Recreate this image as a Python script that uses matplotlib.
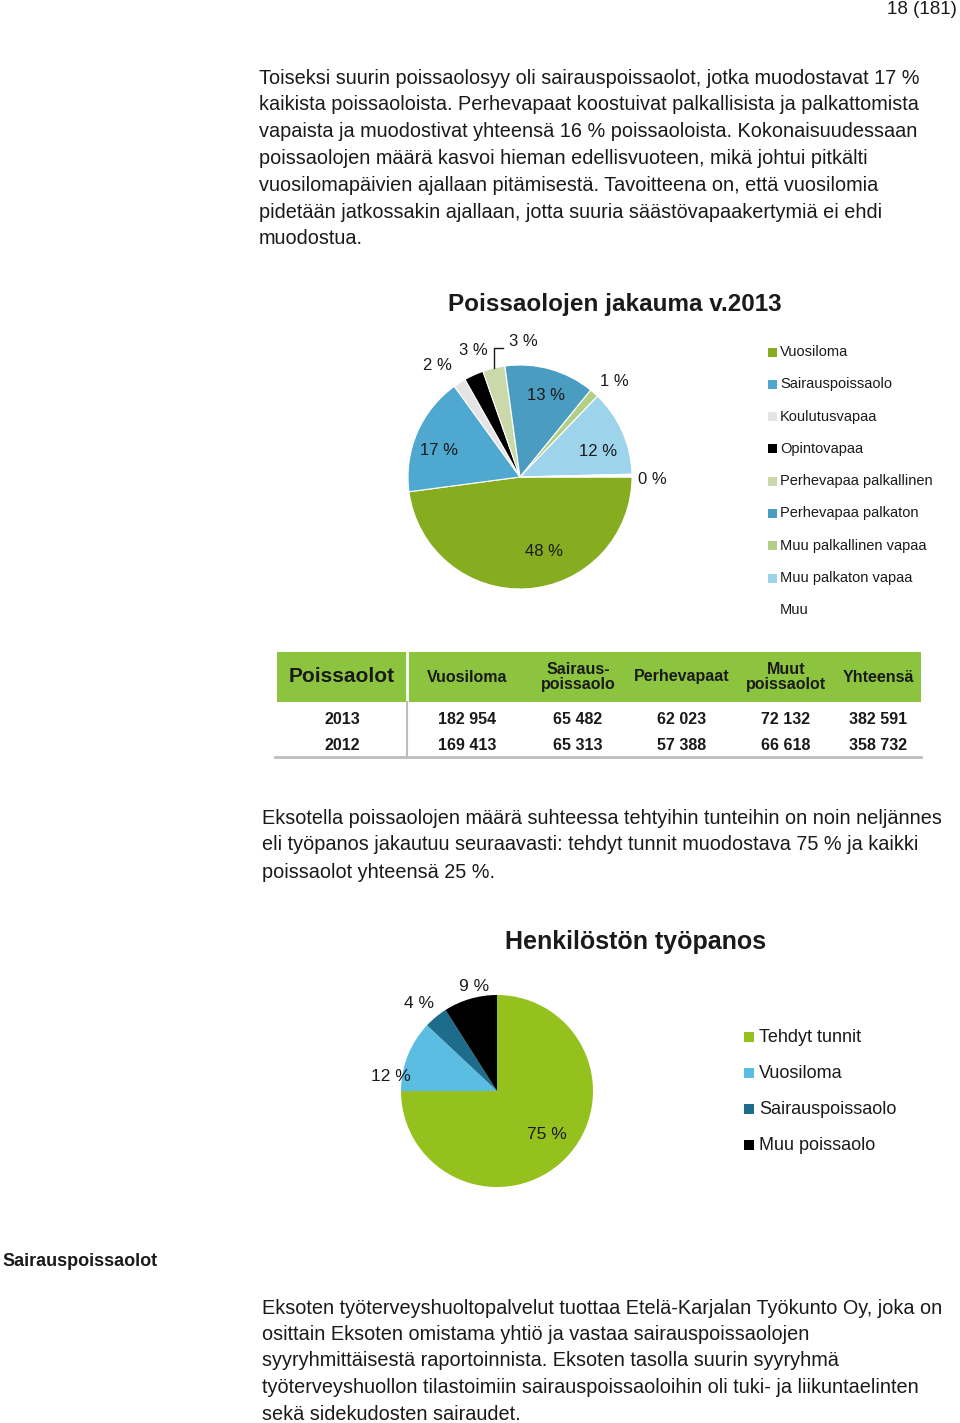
import matplotlib
matplotlib.use("Agg")
import matplotlib.pyplot as plt
from matplotlib.patches import Rectangle
import numpy as np

W, H = 960, 1423
plt.rcParams['font.family'] = ['Liberation Sans', 'DejaVu Sans']

# ---------------- data ----------------
page_number = "18 (181)"
para1 = [
    "Toiseksi suurin poissaolosyy oli sairauspoissaolot, jotka muodostavat 17 %",
    "kaikista poissaoloista. Perhevapaat koostuivat palkallisista ja palkattomista",
    "vapaista ja muodostivat yhteensä 16 % poissaoloista. Kokonaisuudessaan",
    "poissaolojen määrä kasvoi hieman edellisvuoteen, mikä johtui pitkälti",
    "vuosilomapäivien ajallaan pitämisestä. Tavoitteena on, että vuosilomia",
    "pidetään jatkossakin ajallaan, jotta suuria säästövapaakertymiä ei ehdi",
    "muodostua.",
]
pie1_title = "Poissaolojen jakauma v.2013"
pie1_labels = ["Vuosiloma", "Sairauspoissaolo", "Koulutusvapaa", "Opintovapaa",
               "Perhevapaa palkallinen", "Perhevapaa palkaton",
               "Muu palkallinen vapaa", "Muu palkaton vapaa", "Muu"]
pie1_values = [47.8, 17.1, 1.8, 2.8, 3.2, 13.0, 1.3, 12.4, 0.4]
pie1_colors = ["#86ac1f", "#4fa8cf", "#e4e4e4", "#000000", "#cbd9aa",
               "#4a9dc0", "#b3cf85", "#9dd4ec", "#ffffff"]

table_header = ["Poissaolot", "Vuosiloma", "Sairaus-\npoissaolo", "Perhevapaat",
                "Muut\npoissaolot", "Yhteensä"]
table_years = ["2013", "2012"]
vuosiloma = [182954, 169413]
sairaus = [65482, 65313]
perhevapaat = [62023, 57388]
muut = [72132, 66618]
yhteensa = [382591, 358732]

para2 = [
    "Eksotella poissaolojen määrä suhteessa tehtyihin tunteihin on noin neljännes",
    "eli työpanos jakautuu seuraavasti: tehdyt tunnit muodostava 75 % ja kaikki",
    "poissaolot yhteensä 25 %.",
]
pie2_title = "Henkilöstön työpanos"
pie2_labels = ["Tehdyt tunnit", "Vuosiloma", "Sairauspoissaolo", "Muu poissaolo"]
pie2_values = [75, 12, 4, 9]
pie2_colors = ["#95c11f", "#5bbde2", "#1e6c8b", "#000000"]

section_title = "Sairauspoissaolot"
para3 = [
    "Eksoten työterveyshuoltopalvelut tuottaa Etelä-Karjalan Työkunto Oy, joka on",
    "osittain Eksoten omistama yhtiö ja vastaa sairauspoissaolojen",
    "syyryhmittäisestä raportoinnista. Eksoten tasolla suurin syyryhmä",
    "työterveyshuollon tilastoimiin sairauspoissaoloihin oli tuki- ja liikuntaelinten",
    "sekä sidekudosten sairaudet.",
]

# ---------------- figure ----------------
fig = plt.figure(figsize=(W / 100, H / 100), dpi=100)
fig.patch.set_facecolor("white")
bg = fig.add_axes([0, 0, 1, 1])
bg.set_xlim(0, W)
bg.set_ylim(H, 0)
bg.axis("off")

TXT = "#1a1a1a"
body_fs = 14.3

bg.text(957, 9, page_number, fontsize=13.5, ha="right", va="center", color=TXT)

for i, line in enumerate(para1):
    bg.text(259, 78 + i * 26.8, line, fontsize=body_fs, ha="left", va="center", color=TXT)

# ---------- pie 1 ----------
bg.text(615, 305, pie1_title, fontsize=17.5, fontweight="bold", ha="center", va="center", color=TXT)

def pie_axes(cx, cy, r):
    return fig.add_axes([(cx - r) / W, 1 - (cy + r) / H, 2 * r / W, 2 * r / H])

ax1 = pie_axes(520, 477, 112)
w1, _ = ax1.pie(pie1_values, colors=pie1_colors, startangle=0, counterclock=False,
                wedgeprops=dict(edgecolor="white", linewidth=0.8))
ax1.set_xlim(-1, 1)
ax1.set_ylim(-1, 1)
ax1.axis("off")

pct1 = [f"{round(v)} %" for v in pie1_values]
# (radius, angle offset in degrees) for each label
label_place1 = [(0.70, 14), (0.76, 5), (1.24, 4), (1.20, -4), None,
                (0.76, -2), (1.20, -3), (0.73, -6), (1.18, -2)]
for i, (w, t) in enumerate(zip(w1, pct1)):
    midd = (w.theta1 + w.theta2) / 2
    if label_place1[i] is None:
        mid = np.deg2rad(midd)
        ex, ey = np.cos(mid), np.sin(mid)
        ly = 1.15
        ax1.plot([ex, ex, ex + 0.08], [ey, ly, ly], color=TXT, lw=1, clip_on=False)
        ax1.text(ex + 0.26, 1.21, t, fontsize=12, ha="center", va="center", color=TXT)
    else:
        r, dang = label_place1[i]
        mid = np.deg2rad(midd + dang)
        ax1.text(r * np.cos(mid), r * np.sin(mid), t, fontsize=12, ha="center", va="center", color=TXT)

for i, (lab, col) in enumerate(zip(pie1_labels, pie1_colors)):
    y = 352 + i * 32.3
    if col.lower() != "#ffffff":
        bg.add_patch(Rectangle((768, y - 4.5), 9, 9, facecolor=col, edgecolor="none"))
    bg.text(780, y, lab, fontsize=10.5, ha="left", va="center", color=TXT)

# ---------- table ----------
hdr_green = "#8cc43f"
bg.add_patch(Rectangle((277, 652), 644, 50, facecolor=hdr_green, edgecolor="none"))
bg.plot([407, 407], [652, 702], color="white", lw=2)
bg.plot([407, 407], [702, 757], color="#bdbdbd", lw=1.5)
bg.plot([275, 921], [757, 757], color="#bdbdbd", lw=2)
col_x = [342, 467, 578, 682, 786, 878]
for j, h in enumerate(table_header):
    if j == 0:
        bg.text(col_x[j], 677, h, fontsize=15, fontweight="bold", ha="center", va="center", color=TXT)
    else:
        bg.text(col_x[j], 677, h, fontsize=11.5, fontweight="bold", ha="center", va="center",
                color=TXT, linespacing=1.0)

def fmt(v):
    return f"{v:,}".replace(",", " ")

cols = [vuosiloma, sairaus, perhevapaat, muut, yhteensa]
for r, yr in enumerate(table_years):
    y = 719 + r * 27
    bg.text(col_x[0], y, yr, fontsize=11.5, fontweight="bold", ha="center", va="center", color=TXT)
    for j, c in enumerate(cols):
        bg.text(col_x[j + 1], y, fmt(c[r]), fontsize=11.5, fontweight="bold", ha="center",
                va="center", color=TXT)

for i, line in enumerate(para2):
    bg.text(262, 818 + i * 27, line, fontsize=body_fs, ha="left", va="center", color=TXT)

# ---------- pie 2 ----------
bg.text(636, 942, pie2_title, fontsize=18, fontweight="bold", ha="center", va="center", color=TXT)
ax2 = pie_axes(497, 1091, 96)
w2, _ = ax2.pie(pie2_values, colors=pie2_colors, startangle=90, counterclock=False)
ax2.set_xlim(-1, 1)
ax2.set_ylim(-1, 1)
ax2.axis("off")
pct2 = [f"{v} %" for v in pie2_values]
label_place2 = [(0.69, 4), (1.12, 14), (1.22, 2), (1.11, -4)]
for w, t, (r, dang) in zip(w2, pct2, label_place2):
    mid = np.deg2rad((w.theta1 + w.theta2) / 2 + dang)
    ax2.text(r * np.cos(mid), r * np.sin(mid), t, fontsize=12.5, ha="center", va="center", color=TXT)

for i, (lab, col) in enumerate(zip(pie2_labels, pie2_colors)):
    y = 1037 + i * 36
    bg.add_patch(Rectangle((744, y - 5), 10, 10, facecolor=col, edgecolor="none"))
    bg.text(759, y, lab, fontsize=13, ha="left", va="center", color=TXT)

bg.text(2, 1261, section_title, fontsize=13, fontweight="bold", ha="left", va="center", color=TXT)
for i, line in enumerate(para3):
    bg.text(262, 1308 + i * 26.5, line, fontsize=body_fs, ha="left", va="center", color=TXT)

fig.savefig("out.png", dpi=100, facecolor="white")
